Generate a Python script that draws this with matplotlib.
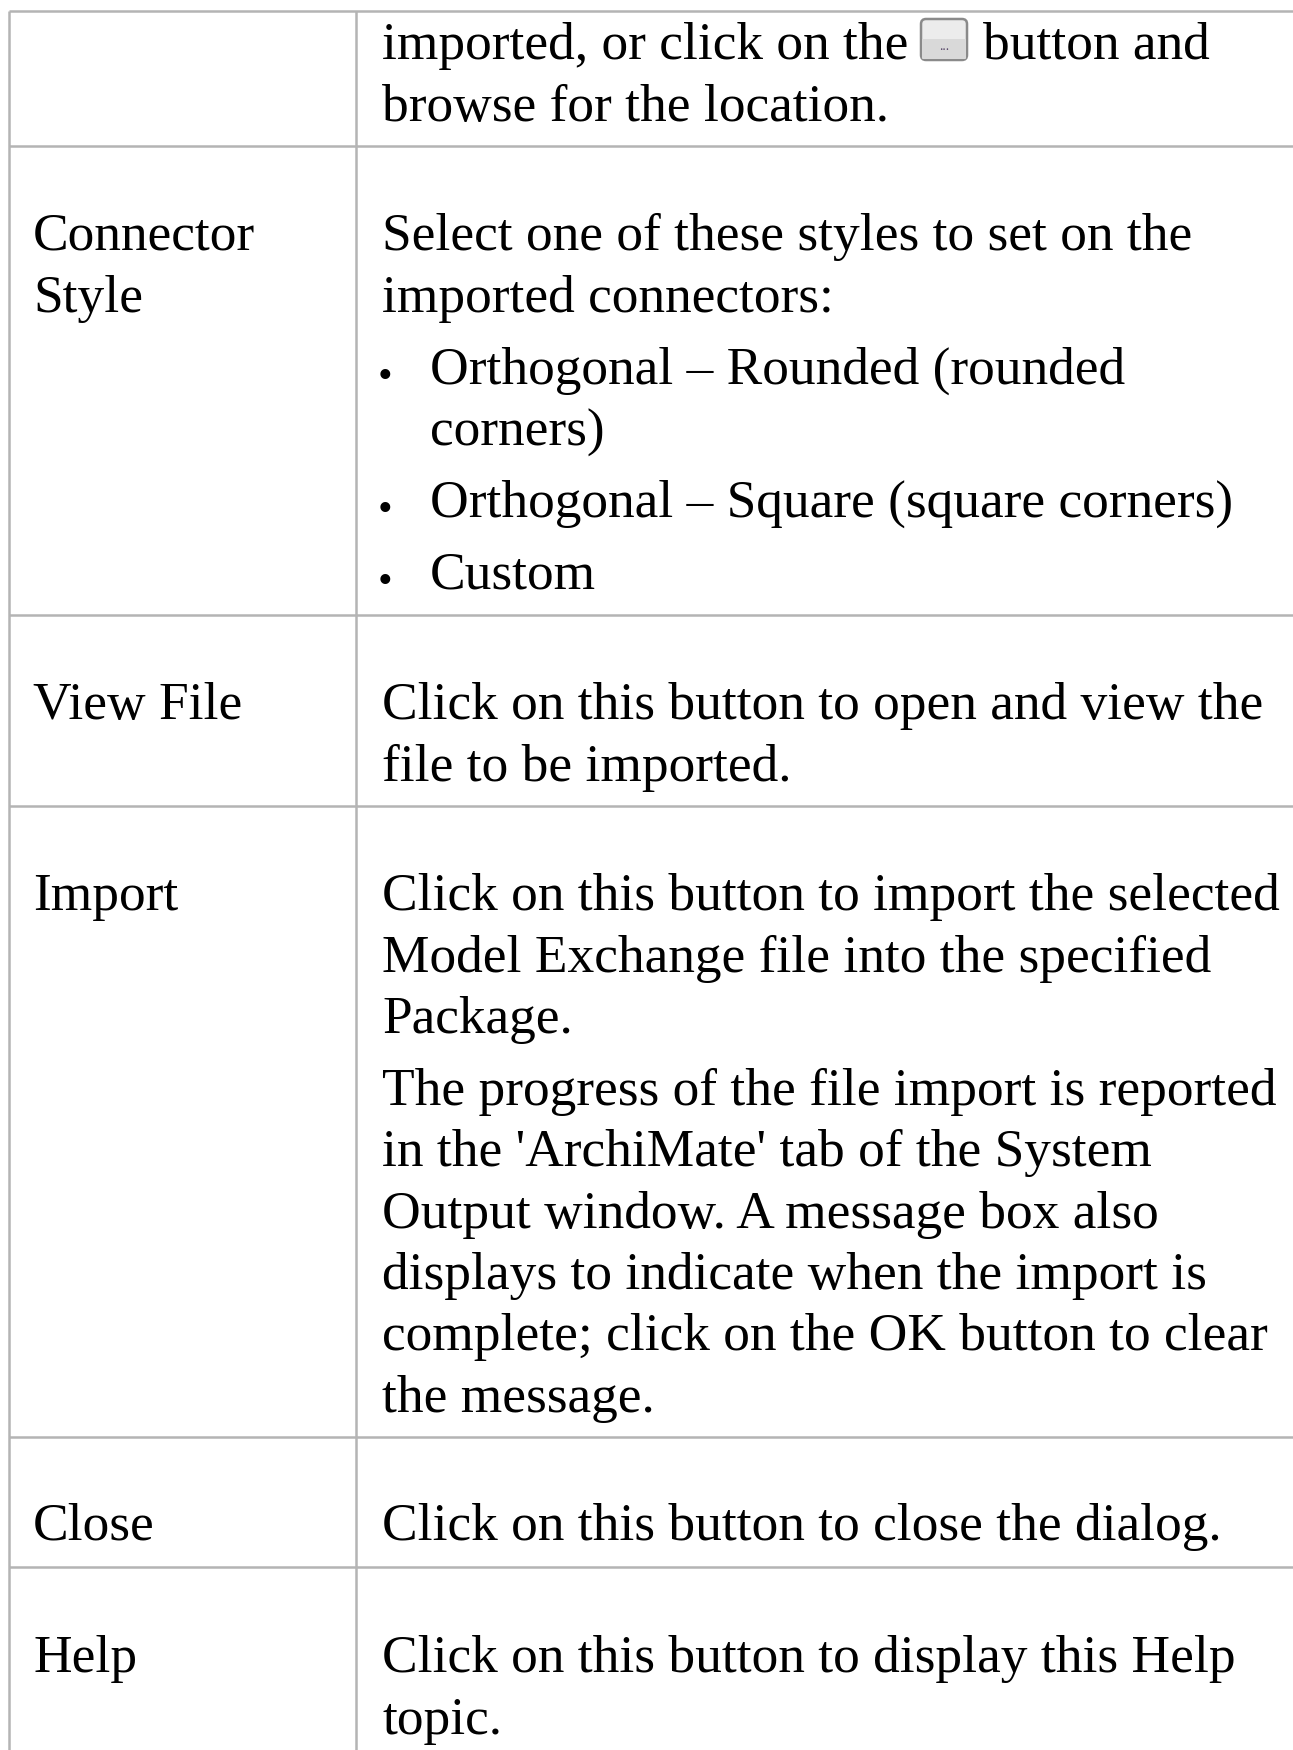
import matplotlib
matplotlib.use('Agg')
import matplotlib.pyplot as plt
from matplotlib.patches import FancyBboxPatch, Rectangle

W, H = 1293, 1750
labels = [("Connector", 233), ("Style", 295), ("View File", 702), ("Import", 893), ("Close", 1523), ("Help", 1655)]
body = [
 ("imported, or click on the", 42), ("browse for the location.", 104),
 ("Select one of these styles to set on the", 233), ("imported connectors:", 295),
 ("Click on this button to open and view the", 702), ("file to be imported.", 764),
 ("Click on this button to import the selected", 893), ("Model Exchange file into the specified", 955), ("Package.", 1016),
 ("The progress of the file import is reported", 1088), ("in the 'ArchiMate' tab of the System", 1149),
 ("Output window. A message box also", 1211), ("displays to indicate when the import is", 1272),
 ("complete; click on the OK button to clear", 1333), ("the message.", 1395),
 ("Click on this button to close the dialog.", 1523),
 ("Click on this button to display this Help", 1655), ("topic.", 1717),
]
bullets = [("Orthogonal – Rounded (rounded", 367, True), ("corners)", 429, False),
           ("Orthogonal – Square (square corners)", 500, True), ("Custom", 572, True)]
hlines = [11, 146, 615, 806, 1437, 1567]

plt.rcParams['font.family'] = ['Liberation Serif']
fig = plt.figure(figsize=((W + 0.01) / 100, (H + 0.01) / 100), dpi=100)
ax = fig.add_axes([0, 0, 1, 1])
ax.set_xlim(0, W); ax.set_ylim(H, 0); ax.axis('off')
FS = 38.4
DY = 3.5
LINE = '#b4b4b4'
for y in hlines:
    ax.plot([9, W], [y, y], color=LINE, lw=1.8, solid_capstyle='butt')
ax.plot([9, 9], [11, H], color=LINE, lw=1.8, solid_capstyle='butt')
ax.plot([356, 356], [11, H], color=LINE, lw=1.8, solid_capstyle='butt')
for t, y in labels:
    ax.text(33, y + DY, t, fontsize=FS, va='center', color='black')
for t, y in body:
    ax.text(382, y + DY, t, fontsize=FS, va='center', color='black')
ax.text(983, 42 + DY, "button and", fontsize=FS, va='center', color='black')
for t, y, b in bullets:
    if b:
        ax.text(385, y + DY + 7, "•", fontsize=30, va='center', ha='center', color='black')
    ax.text(430, y + DY, t, fontsize=FS, va='center', color='black')
box = FancyBboxPatch((921, 19), 46, 41, boxstyle='round,pad=0,rounding_size=5', fc='#ececec', ec='#8a8a8a', lw=1.8, zorder=3)
ax.add_patch(box)
lower = Rectangle((922, 39), 44, 20, fc='#d9d9d9', ec='none', zorder=4)
ax.add_patch(lower)
lower.set_clip_path(box)
ax.text(944, 46, "...", fontsize=10, ha='center', va='center', color='#554466', zorder=5)
fig.savefig('out.png', dpi=100)
